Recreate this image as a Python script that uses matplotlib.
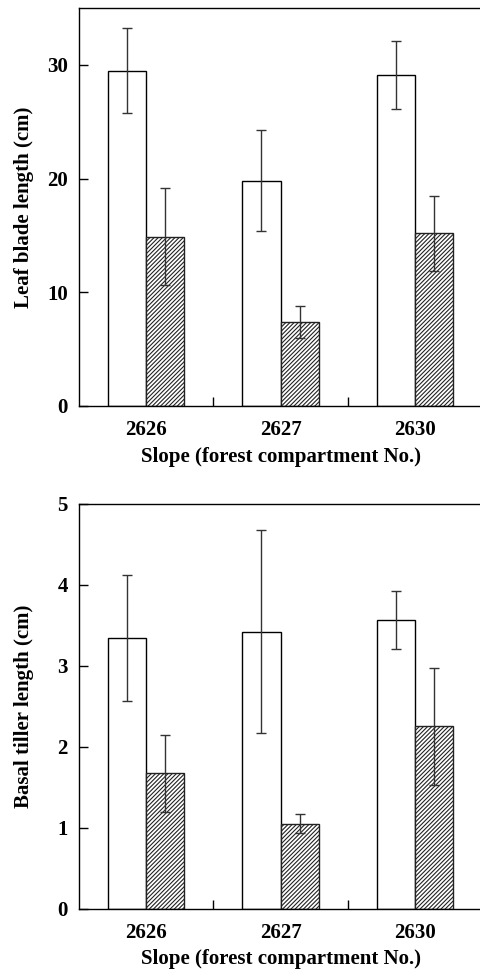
import matplotlib
matplotlib.use("Agg")
import matplotlib.pyplot as plt
import numpy as np

plt.rcParams['font.family'] = 'Liberation Serif'
plt.rcParams['font.weight'] = 'bold'
plt.rcParams['axes.labelweight'] = 'bold'
plt.rcParams['hatch.linewidth'] = 0.8
plt.rcParams['hatch.color'] = '#333333'

slopes = ['2626', '2627', '2630']

# leaf blade length (cm)
leaf_open = [29.5, 19.8, 29.1]
leaf_open_err = [3.7, 4.45, 3.0]
leaf_hatch = [14.9, 7.4, 15.2]
leaf_hatch_err = [4.3, 1.4, 3.3]

# basal tiller length (cm)
tiller_open = [3.34, 3.42, 3.56]
tiller_open_err = [0.78, 1.25, 0.36]
tiller_hatch = [1.67, 1.05, 2.25]
tiller_hatch_err = [0.48, 0.12, 0.72]

fig = plt.figure(figsize=(4.8, 9.71), dpi=100)
ax1 = fig.add_axes([0.1646, 0.5819, 0.8396, 0.4099])
ax2 = fig.add_axes([0.1646, 0.0642, 0.8396, 0.4171])

w = 0.285
x = np.arange(len(slopes))


def draw(ax, vo, eo, vh, eh, ylim, yticks, ylabel):
    ax.bar(x - w/2, vo, w, color='white', edgecolor='black', linewidth=1.0)
    ax.bar(x + w/2, vh, w, color='white', edgecolor='#222222', linewidth=1.0, hatch='////////')
    ax.errorbar(x - w/2, vo, yerr=eo, fmt='none', ecolor='#333333', elinewidth=1.0, capsize=3.5, capthick=1.0)
    ax.errorbar(x + w/2, vh, yerr=eh, fmt='none', ecolor='#333333', elinewidth=1.0, capsize=3.5, capthick=1.0)
    ax.set_xlim(-0.5, 2.5)
    ax.set_ylim(*ylim)
    ax.set_yticks(yticks)
    ax.set_xticks(x)
    ax.set_xticklabels(slopes)
    ax.set_xticks([0.5, 1.5], minor=True)
    ax.tick_params(axis='x', which='major', length=0, pad=10, labelsize=15)
    ax.tick_params(axis='x', which='minor', direction='in', length=6.5, width=1.0)
    ax.tick_params(axis='y', direction='in', length=6.5, width=1.0, pad=8, labelsize=15)
    for s in ax.spines.values():
        s.set_linewidth(1.0)
    ax.set_xlabel('Slope (forest compartment No.)', fontsize=15, labelpad=5)
    ax.set_ylabel(ylabel, fontsize=15)
    # both y labels sit at the same distance from the spine
    ax.yaxis.set_label_coords(-0.112, 0.5)


draw(ax1, leaf_open, leaf_open_err, leaf_hatch, leaf_hatch_err, (0, 35), [0, 10, 20, 30],
     'Leaf blade length (cm)')
draw(ax2, tiller_open, tiller_open_err, tiller_hatch, tiller_hatch_err, (0, 5), [0, 1, 2, 3, 4, 5],
     'Basal tiller length (cm)')

fig.savefig('out.png', dpi=100)
